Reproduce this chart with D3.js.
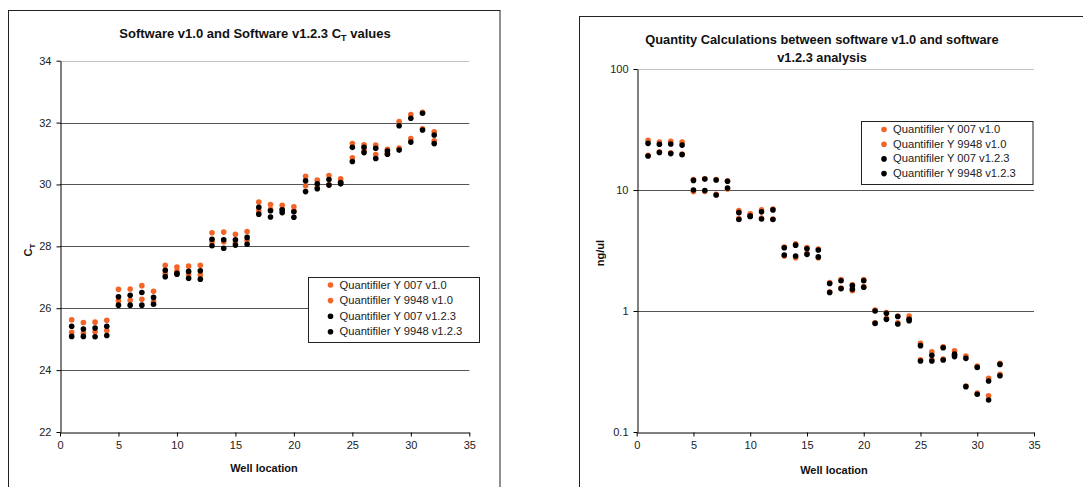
<!DOCTYPE html>
<html><head><meta charset="utf-8">
<script src="https://cdn.jsdelivr.net/npm/d3@7"></script>
<style>
body{margin:0;background:#fff;}
svg{display:block;font-family:"Liberation Sans",Arial,sans-serif;}
</style></head>
<body>
<svg id="c" width="1083" height="487"></svg>
<script>
const wells = [1,2,3,4,5,6,7,8,9,10,11,12,13,14,15,16,17,18,19,20,21,22,23,24,25,26,27,28,29,30,31,32];
const seriesNames = ["Quantifiler Y 007 v1.0","Quantifiler Y 9948 v1.0","Quantifiler Y 007 v1.2.3","Quantifiler Y 9948 v1.2.3"];
const seriesColors = ["#f26526","#f26526","#000000","#000000"];

// Left chart: CT values
const ct007v10  = [25.63,25.54,25.55,25.61, 26.61,26.62,26.73,26.55, 27.39,27.33,27.36,27.39, 28.44,28.46,28.39,28.48, 29.43,29.35,29.33,29.28, 30.26,30.14,30.29,30.18, 31.32,31.28,31.27,31.14, 32.03,32.26,32.33,31.70];
const ct9948v10 = [25.22,25.20,25.24,25.28, 26.24,26.26,26.29,26.22, 27.13,27.20,27.08,27.08, 28.14,28.15,28.12,28.18, 29.15,29.20,29.20,29.14, 29.96,29.92,29.99,30.08, 30.86,31.10,30.97,31.00, 31.18,31.48,31.80,31.41];
const ct007v123 = [25.42,25.33,25.36,25.42, 26.37,26.42,26.51,26.35, 27.23,27.13,27.19,27.21, 28.23,28.21,28.21,28.29, 29.26,29.15,29.18,29.12, 30.12,30.02,30.16,30.06, 31.20,31.20,31.17,31.08, 31.90,32.14,32.30,31.60];
const ct9948v123= [25.09,25.09,25.08,25.12, 26.10,26.10,26.10,26.13, 27.02,27.10,26.97,26.94, 28.02,27.94,28.04,28.07, 29.04,28.95,29.09,28.94, 29.77,29.86,29.98,30.02, 30.74,31.03,30.84,30.98, 31.11,31.37,31.76,31.32];
const leftYTicks = [22,24,26,28,30,32,34];
const xTicks = [0,5,10,15,20,25,30,35];

// Right chart: quantities (ng/ul)
const q007v10   = [25.8,24.9,25.3,24.9, 12.2,12.4,12.2,11.9, 6.75,6.35,6.85,6.95, 3.38,3.6,3.35,3.25, 1.72,1.82,1.65,1.82, 1.02,0.97,0.91,0.91, 0.54,0.46,0.505,0.47, 0.425,0.35,0.278,0.37];
const q9948v10  = [19.4,20.7,20.3,19.8, 9.7,9.75,9.2,10.2, 5.8,6.2,5.85,5.75, 2.85,2.76,2.98,2.76, 1.44,1.55,1.47,1.59, 0.80,0.87,0.80,0.86, 0.395,0.395,0.40,0.43, 0.24,0.21,0.199,0.30];
const q007v123  = [24.3,23.9,24.0,23.5, 12.0,12.3,12.1,11.8, 6.5,6.1,6.6,6.85, 3.33,3.5,3.27,3.19, 1.69,1.78,1.62,1.78, 1.0,0.957,0.90,0.853, 0.517,0.43,0.497,0.44, 0.406,0.342,0.264,0.362];
const q9948v123 = [19.1,20.4,20.0,19.6, 10.0,9.9,9.1,10.4, 5.7,6.05,5.76,5.7, 2.9,2.85,2.94,2.8, 1.42,1.53,1.51,1.57, 0.79,0.853,0.78,0.83, 0.386,0.386,0.394,0.42, 0.237,0.205,0.184,0.292];
const rightYTicks = [0.1,1,10,100];

const svg = d3.select("#c");
const R = 2.8;

function drawChart(o){
  const g = svg.append("g");
  g.append("rect").attr("x",o.frame[0]).attr("y",o.frame[1]).attr("width",o.frame[2]).attr("height",o.frame[3])
    .attr("fill","none").attr("stroke","#222").attr("stroke-width",1);
  const x = d3.scaleLinear().domain([0,35]).range([o.x0,o.x1]);
  const y = o.y;
  g.selectAll(".grid").data(o.yTicks.filter(t=>t!==o.yTicks[0])).join("line")
    .attr("x1",o.x0).attr("x2",o.x1).attr("y1",d=>Math.round(y(d))+0.5).attr("y2",d=>Math.round(y(d))+0.5)
    .attr("stroke",(d,i,a)=> i===a.length-1 ? "#c4c4c4" : "#555").attr("stroke-width",1);
  const ax = g.append("g").attr("transform",`translate(0,${Math.round(y(o.yTicks[0]))+0.5})`)
    .call(d3.axisBottom(x).tickValues(xTicks).tickSize(4).tickSizeOuter(0).tickPadding(5));
  const ay = g.append("g").attr("transform",`translate(${Math.round(o.x0)+0.5},0)`)
    .call(d3.axisLeft(y).tickValues(o.yTicks).tickFormat(o.fmt).tickSize(4).tickSizeOuter(0).tickPadding(5));
  [ax,ay].forEach(a=>{
    a.select(".domain").attr("stroke","#000");
    a.selectAll(".tick line").attr("stroke","#000");
    a.selectAll("text").attr("font-size",11).attr("fill","#222").attr("font-family","Liberation Sans, Arial, sans-serif");
  });
  o.series.forEach((s,si)=>{
    g.append("g").selectAll("circle").data(wells.map((w,i)=>[w,s[i]])).join("circle")
      .attr("cx",d=>x(d[0])).attr("cy",d=>y(d[1])).attr("r",R).attr("fill",seriesColors[si]);
  });
  const t = g.append("text").attr("text-anchor","middle").attr("font-weight","bold").attr("font-size",o.titleSize).attr("fill","#111");
  o.title(t);
  g.append("text").attr("x",o.xLabelX).attr("y",o.xLabelY).attr("text-anchor","middle").attr("font-weight","bold")
    .attr("font-size",11).attr("fill","#111").text("Well location");
  const yl = g.append("text").attr("transform",`translate(${o.yLabelX},${o.yLabelY}) rotate(-90)`).attr("text-anchor","middle")
    .attr("font-weight","bold").attr("font-size",11).attr("fill","#111");
  o.ylabel(yl);
  const L = o.legend;
  g.append("rect").attr("x",L.x).attr("y",L.y).attr("width",L.w).attr("height",L.h).attr("fill","#fff").attr("stroke","#222").attr("stroke-width",1);
  seriesNames.forEach((n,i)=>{
    const cy = L.y + L.first + i*L.step;
    g.append("circle").attr("cx",L.x+L.mx).attr("cy",cy+0.5).attr("r",R).attr("fill",seriesColors[i]);
    g.append("text").attr("x",L.x+L.tx).attr("y",cy+4).attr("font-size",11.2).attr("fill","#222").text(n);
  });
}

drawChart({
  frame:[8.5,10.5,491.5,520],
  x0:60, x1:469.3,
  y: d3.scaleLinear().domain([22,34]).range([432,60.7]),
  yTicks: leftYTicks, fmt: d3.format("d"),
  series:[ct007v10,ct9948v10,ct007v123,ct9948v123],
  titleSize: 13,
  title: t=>{ t.attr("x",255).attr("y",38).text("Software v1.0 and Software v1.2.3 C");
              t.append("tspan").attr("font-size",9).attr("dy",3).text("T");
              t.append("tspan").attr("dy",-3).text(" values"); },
  xLabelX:264, xLabelY:472,
  yLabelX:32, yLabelY:250,
  ylabel: t=>{ t.text("C"); t.append("tspan").attr("font-size",8).attr("dy",3).text("T"); },
  legend:{x:308.5,y:277.5,w:171,h:65,first:7,step:15.6,mx:22,tx:31}
});

drawChart({
  frame:[579.5,16.5,520,520],
  x0:636.7, x1:1034,
  y: d3.scaleLog().domain([0.1,100]).range([432,69]),
  yTicks: rightYTicks, fmt: d=> d===0.1 ? "0.1" : d3.format("d")(d),
  series:[q007v10,q9948v10,q007v123,q9948v123],
  titleSize: 12.8,
  title: t=>{ t.attr("x",822).attr("y",44).text("Quantity Calculations between software v1.0 and software");
              t.append("tspan").attr("x",822).attr("dy",17.5).text("v1.2.3 analysis"); },
  xLabelX:834, xLabelY:474,
  yLabelX:604, yLabelY:253,
  ylabel: t=>{ t.text("ng/ul"); },
  legend:{x:861.5,y:121.5,w:171.5,h:63,first:7.5,step:14.7,mx:22.5,tx:31.5}
});
</script>
</body></html>
